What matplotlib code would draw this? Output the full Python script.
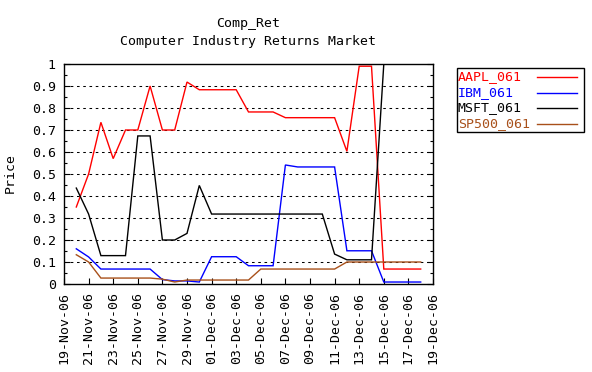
import matplotlib
matplotlib.use("Agg")
import matplotlib.pyplot as plt
import matplotlib.dates as mdates
from matplotlib.patches import Rectangle
from matplotlib.lines import Line2D
from matplotlib.ticker import MultipleLocator
import numpy as np
import pandas as pd

plt.rcParams['font.family'] = ['DejaVu Sans Mono']
FS = 9.5

dates = ["2006-11-20", "2006-11-21", "2006-11-22", "2006-11-23", "2006-11-24",
         "2006-11-25", "2006-11-26", "2006-11-27", "2006-11-28", "2006-11-29",
         "2006-11-30", "2006-12-01", "2006-12-02", "2006-12-03", "2006-12-04",
         "2006-12-05", "2006-12-06", "2006-12-07", "2006-12-08", "2006-12-09",
         "2006-12-10", "2006-12-11", "2006-12-12", "2006-12-13", "2006-12-14",
         "2006-12-15", "2006-12-16", "2006-12-17", "2006-12-18"]

aapl = [0.35, 0.50, 0.735, 0.57, 0.70, 0.70, 0.90, 0.70, 0.70, 0.918, 0.883,
        0.883, 0.883, 0.883, 0.782, 0.782, 0.782, 0.756, 0.756, 0.756, 0.756,
        0.756, 0.603, 0.99, 0.99, 0.068, 0.068, 0.068, 0.068]
ibm = [0.16, 0.123, 0.068, 0.068, 0.068, 0.068, 0.068, 0.02, 0.014, 0.014, 0.009,
       0.124, 0.124, 0.124, 0.083, 0.083, 0.083, 0.541, 0.532, 0.532, 0.532,
       0.532, 0.151, 0.151, 0.151, 0.009, 0.009, 0.009, 0.009]
msft = [0.436, 0.318, 0.129, 0.129, 0.129, 0.673, 0.673, 0.20, 0.20, 0.23, 0.448,
        0.318, 0.318, 0.318, 0.318, 0.318, 0.318, 0.318, 0.318, 0.318, 0.318,
        0.136, 0.11, 0.11, 0.11, 1.0, 1.0, 1.0, 1.0]
sp500 = [0.133, 0.10, 0.027, 0.027, 0.027, 0.027, 0.027, 0.022, 0.009, 0.018, 0.018,
         0.018, 0.018, 0.018, 0.018, 0.068, 0.068, 0.068, 0.068, 0.068, 0.068,
         0.068, 0.10, 0.10, 0.10, 0.10, 0.10, 0.10, 0.10]

series_names = ["AAPL_061", "IBM_061", "MSFT_061", "SP500_061"]
series_values = [aapl, ibm, msft, sp500]
series_colors = ["#ff0000", "#0000ff", "#000000", "#a8501a"]

title_lines = ["Comp_Ret", "Computer Industry Returns Market"]
y_label = "Price"
x_start, x_end = "2006-11-19", "2006-12-19"

W, H = 592, 372
fig = plt.figure(figsize=(W / 100, H / 100), dpi=100)
fig.patch.set_facecolor("white")

L, R, T, B = 64, 433, 64, 284
ax = fig.add_axes([L / W, 1 - B / H, (R - L) / W, (B - T) / H])

x = pd.to_datetime(dates)
for i, (name, vals, col) in enumerate(zip(series_names, series_values, series_colors)):
    ax.plot(x, vals, color=col, lw=1.0, zorder=3 + i, solid_joinstyle="miter")

ax.set_xlim(pd.Timestamp(x_start), pd.Timestamp(x_end))
ax.set_ylim(0, 1)

ax.xaxis.set_major_locator(mdates.DayLocator(bymonthday=range(1, 32, 2)))
ax.xaxis.set_major_formatter(mdates.DateFormatter("%d-%b-%y"))
ax.yaxis.set_major_locator(MultipleLocator(0.1))
ax.yaxis.set_minor_locator(MultipleLocator(0.05))
ax.yaxis.set_major_formatter(plt.FuncFormatter(lambda v, p: "0" if abs(v) < 1e-9 else ("1" if abs(v - 1) < 1e-9 else f"{v:.1f}")))

ax.tick_params(axis="x", which="major", direction="in", length=4.5, width=0.8,
               top=False, bottom=True, labelsize=FS, labelrotation=90, pad=6)
ax.tick_params(axis="y", which="major", direction="in", length=4.5, width=0.8,
               left=True, right=True, labelsize=FS, pad=6)
ax.tick_params(axis="y", which="minor", direction="in", length=2.5, width=0.8,
               left=True, right=True)

for s in ax.spines.values():
    s.set_linewidth(1.0)
    s.set_zorder(10)

for v in np.arange(0.1, 0.95, 0.1):
    ax.axhline(v, color="black", lw=0.75, dashes=(2.5, 3.5), zorder=1)

ax.set_ylabel(y_label, fontsize=FS, labelpad=6)
ax.yaxis.set_label_coords(-(64 - 17) / (R - L), 1 - (173 - T) / (B - T))

fig.text((L + R) / 2 / W, 1 - 24 / H, title_lines[0], ha="center", va="center", fontsize=FS)
fig.text((L + R) / 2 / W, 1 - 41 / H, title_lines[1], ha="center", va="center", fontsize=FS)

# legend (gnuplot style: text left, sample line right)
fig.patches.append(Rectangle((457 / W, 1 - 132 / H), 127 / W, 64 / H,
                             transform=fig.transFigure, fill=False,
                             edgecolor="black", lw=1.0))
rows = [77, 92.5, 108, 124]
for name, col, ry in zip(series_names, series_colors, rows):
    fig.text(458 / W, 1 - ry / H, name, color=col, ha="left", va="center", fontsize=FS)
    fig.lines.append(Line2D([537 / W, 577 / W], [1 - ry / H, 1 - ry / H],
                            transform=fig.transFigure, color=col, lw=1.0))

fig.savefig("out.png", dpi=100)
